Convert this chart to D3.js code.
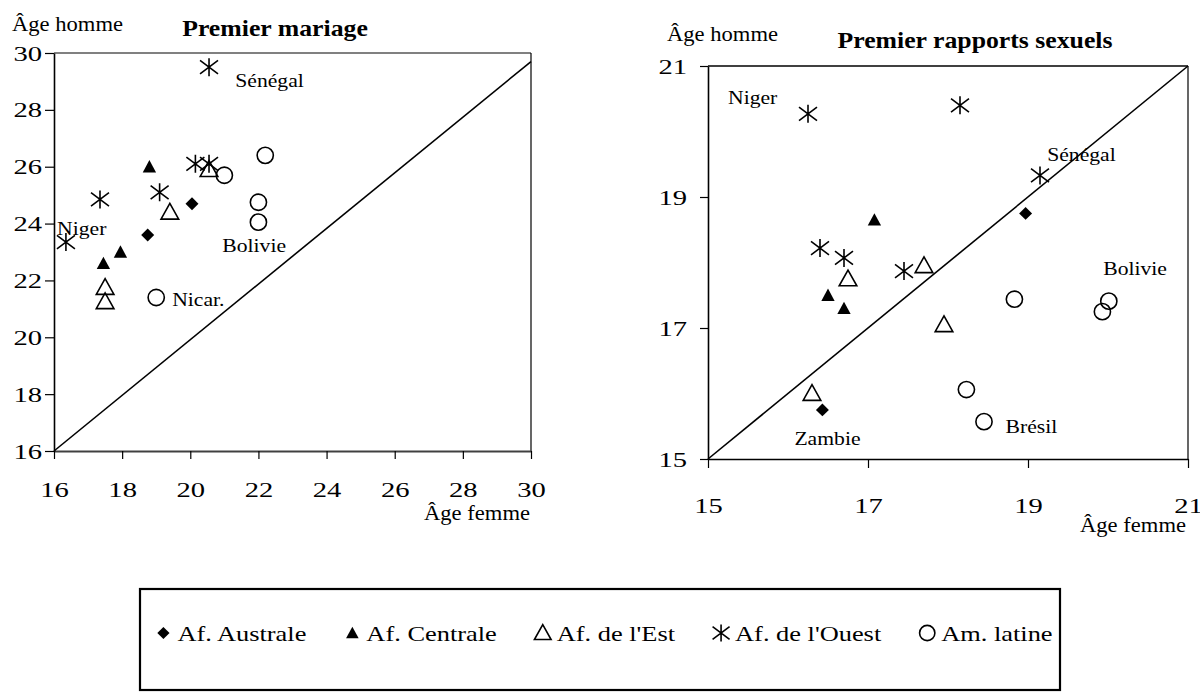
<!DOCTYPE html>
<html>
<head>
<meta charset="utf-8">
<script src="https://cdn.jsdelivr.net/npm/d3@7"></script>
<style>
  body { margin: 0; background: #fff; }
  text { font-family: "Liberation Serif", "Times New Roman", serif; fill: #000; }
</style>
</head>
<body>
<div id="chart"></div>
<script>
// groupes (legende)
var groupes = ["Af. Australe", "Af. Centrale", "Af. de l'Est", "Af. de l'Ouest", "Am. latine"];

// premier mariage : groupe, age femme, age homme
var mariageGroupe = [0, 0, 1, 1, 1, 2, 2, 2, 2, 3, 3, 3, 3, 3, 3, 4, 4, 4, 4, 4];
var mariageFemme  = [18.75, 20.05, 18.8, 17.45, 17.95, 19.4, 20.55, 17.5, 17.5, 20.55, 17.35, 19.1, 20.15, 20.55, 16.35, 22.2, 21.0, 22.0, 22.0, 19.0];
var mariageHomme  = [23.6, 24.7, 26.0, 22.6, 23.0, 24.4, 25.9, 21.75, 21.25, 29.5, 24.85, 25.1, 26.1, 26.1, 23.35, 26.4, 25.7, 24.75, 24.05, 21.4];
var mariageTicks = [16, 18, 20, 22, 24, 26, 28, 30];
var mariageDiag = [[16, 16], [30, 29.7]];
var mariagePays = ["Sénégal", "Niger", "Bolivie", "Nicar."];
var mariagePaysX = [21.32, 16.09, 20.94, 19.47];
var mariagePaysY = [29.05, 23.84, 23.25, 21.35];

// premiers rapports sexuels
var rapportsGroupe = [0, 0, 1, 1, 1, 2, 2, 2, 2, 3, 3, 3, 3, 3, 3, 4, 4, 4, 4, 4];
var rapportsFemme  = [18.97, 16.43, 17.08, 16.5, 16.7, 16.75, 17.7, 17.95, 16.3, 16.25, 18.15, 19.15, 16.4, 16.7, 17.45, 18.83, 20.01, 19.93, 18.23, 18.45];
var rapportsHomme  = [18.75, 15.75, 18.65, 17.5, 17.3, 17.75, 17.95, 17.05, 16.0, 20.27, 20.4, 19.33, 18.22, 18.07, 17.87, 17.44, 17.41, 17.25, 16.06, 15.57];
var rapportsTicks = [15, 17, 19, 21];
var rapportsDiag = [[15, 15], [21, 21]];
var rapportsPays = ["Niger", "Sénégal", "Bolivie", "Brésil", "Zambie"];
var rapportsPaysX = [15.25, 19.24, 19.94, 18.72, 16.08];
var rapportsPaysY = [20.52, 19.65, 17.91, 15.5, 15.31];

var width = 1200, height = 692;
var svg = d3.select('#chart').append('svg')
    .attr('width', width)
    .attr('height', height);

// texte etire horizontalement (comme l'export d'origine)
function label(g, x, y, txt, size, sx, anchor, weight) {
    var t = g.append('g').attr('transform', 'translate(' + x + ',' + y + ') scale(' + sx + ',1)')
        .append('text')
        .attr('dy', '0.35em')
        .attr('font-size', size)
        .attr('text-anchor', anchor || 'start')
        .text(txt);
    if (weight) t.attr('font-weight', weight);
    return t;
}

// marqueurs: 0 losange, 1 triangle plein, 2 triangle vide, 3 etoile, 4 cercle
function marker(g, type, s) {
    var h = s / 2;
    if (type == 0) {
        var d = h * 0.72;
        g.append('path').attr('d', 'M0,' + (-d) + 'L' + d + ',0L0,' + d + 'L' + (-d) + ',0Z').attr('fill', '#000');
    } else if (type == 1) {
        var a = h * 0.74;
        g.append('path').attr('d', 'M0,' + (-a) + 'L' + a + ',' + (a * 0.85) + 'L' + (-a) + ',' + (a * 0.85) + 'Z').attr('fill', '#000');
    } else if (type == 2) {
        var b = h * 0.98;
        g.append('path').attr('d', 'M0,' + (-b) + 'L' + b + ',' + (b * 0.78) + 'L' + (-b) + ',' + (b * 0.78) + 'Z')
            .attr('fill', 'none').attr('stroke', '#000').attr('stroke-width', 1.6);
    } else if (type == 3) {
        g.append('path')
            .attr('d', 'M' + (-h) + ',' + (-h * 0.75) + 'L' + h + ',' + (h * 0.75) +
                       'M' + (-h) + ',' + (h * 0.75) + 'L' + h + ',' + (-h * 0.75) +
                       'M0,' + (-h) + 'L0,' + h)
            .attr('stroke', '#000').attr('stroke-width', 1.6).attr('fill', 'none');
    } else {
        g.append('circle').attr('r', h * 0.9)
            .attr('fill', 'none').attr('stroke', '#000').attr('stroke-width', 1.6);
    }
}

function stretchTicks(axis, sx, size) {
    axis.attr('font-family', null);
    axis.selectAll('.tick text').each(function () {
        var t = d3.select(this);
        var tx = +t.attr('x') || 0, ty = +t.attr('y') || 0;
        t.attr('x', 0).attr('y', 0)
            .attr('font-size', size)
            .attr('transform', 'translate(' + tx + ',' + ty + ') scale(' + sx + ',1)');
    });
}

function drawChart(opt) {
    var x = d3.scaleLinear().domain(opt.domain).range(opt.xr);
    var y = d3.scaleLinear().domain(opt.domain).range(opt.yr);
    var g = svg.append('g');

    // cadre haut / droite
    g.append('line').attr('x1', opt.xr[0]).attr('x2', opt.xr[1])
        .attr('y1', opt.yr[1]).attr('y2', opt.yr[1])
        .attr('stroke', opt.topColor).attr('stroke-width', opt.topWidth);
    g.append('line').attr('x1', opt.xr[1]).attr('x2', opt.xr[1])
        .attr('y1', opt.yr[1]).attr('y2', opt.yr[0])
        .attr('stroke', '#000').attr('stroke-width', 1.2);

    var xAxis = g.append('g').attr('transform', 'translate(0,' + opt.yr[0] + ')')
        .call(d3.axisBottom(x).tickValues(opt.ticks).tickFormat(d3.format('d'))
            .tickSize(opt.xTick).tickSizeOuter(0).tickPadding(opt.xPad));
    xAxis.select('.domain').attr('stroke', opt.bottomColor).attr('stroke-width', opt.bottomWidth);
    xAxis.selectAll('.tick line').attr('stroke', '#000').attr('stroke-width', 1.2);
    stretchTicks(xAxis, 1.3, 22);

    var yAxis = g.append('g').attr('transform', 'translate(' + opt.xr[0] + ',0)')
        .call(d3.axisLeft(y).tickValues(opt.ticks).tickFormat(d3.format('d'))
            .tickSize(opt.yTick).tickSizeOuter(0).tickPadding(opt.yPad));
    yAxis.select('.domain').attr('stroke', '#000').attr('stroke-width', 1.6);
    yAxis.selectAll('.tick line').attr('stroke', '#000').attr('stroke-width', 1.2);
    stretchTicks(yAxis, 1.3, 22);

    // diagonale
    g.append('path').datum(opt.diag)
        .attr('d', d3.line().x(function (d) { return x(d[0]); }).y(function (d) { return y(d[1]); }))
        .attr('stroke', '#000').attr('stroke-width', 1.6).attr('fill', 'none');

    // points
    opt.groupe.forEach(function (grp, i) {
        var m = g.append('g').attr('transform', 'translate(' + x(opt.femme[i]) + ',' + y(opt.homme[i]) + ')');
        marker(m, grp, 18);
    });

    // pays
    opt.pays.forEach(function (p, i) {
        label(g, x(opt.paysX[i]), y(opt.paysY[i]), p, 19, 1.14);
    });

    // titres
    label(g, opt.titleX, opt.titleY, opt.title, 23, 1.12, 'middle', 'bold');
    label(g, opt.yLabX, opt.yLabY, 'Âge homme', 20, 1.13);
    label(g, opt.xLabX, opt.xLabY, 'Âge femme', 20, 1.13, 'end');
}

drawChart({
    domain: [16, 30], xr: [54, 531], yr: [451, 53],
    ticks: mariageTicks, diag: mariageDiag,
    groupe: mariageGroupe, femme: mariageFemme, homme: mariageHomme,
    pays: mariagePays, paysX: mariagePaysX, paysY: mariagePaysY,
    topColor: '#808080', topWidth: 2, bottomColor: '#404040', bottomWidth: 2,
    xTick: 8, xPad: 22, yTick: 9, yPad: 3,
    title: 'Premier mariage', titleX: 275, titleY: 28,
    yLabX: 12, yLabY: 24, xLabX: 530, xLabY: 513
});

drawChart({
    domain: [15, 21], xr: [708, 1188], yr: [459, 66],
    ticks: rapportsTicks, diag: rapportsDiag,
    groupe: rapportsGroupe, femme: rapportsFemme, homme: rapportsHomme,
    pays: rapportsPays, paysX: rapportsPaysX, paysY: rapportsPaysY,
    topColor: '#000', topWidth: 1.4, bottomColor: '#000', bottomWidth: 1.6,
    xTick: 9, xPad: 29, yTick: 8, yPad: 13,
    title: 'Premier rapports sexuels', titleX: 975, titleY: 40,
    yLabX: 667, yLabY: 34, xLabX: 1186, xLabY: 525
});

// legende
var leg = svg.append('g');
leg.append('rect').attr('x', 140).attr('y', 589).attr('width', 920).attr('height', 101)
    .attr('fill', 'none').attr('stroke', '#000').attr('stroke-width', 2.2);

var legSx = 1.2;
var items = leg.selectAll('g.item').data(groupes).enter().append('g').attr('class', 'item');
items.each(function (d) { label(d3.select(this), 14, 0, d, 22, legSx); });
var widths = [];
items.each(function () { widths.push(this.querySelector('text').getComputedTextLength() * legSx + 14); });
var gap = 46;
var total = d3.sum(widths) + gap * (widths.length - 1);
var cx = 608 - total / 2;
items.each(function (d, i) {
    var gi = d3.select(this).attr('transform', 'translate(' + cx + ',633)');
    marker(gi.append('g'), i, 17);
    cx += widths[i] + gap;
});
</script>
</body>
</html>
